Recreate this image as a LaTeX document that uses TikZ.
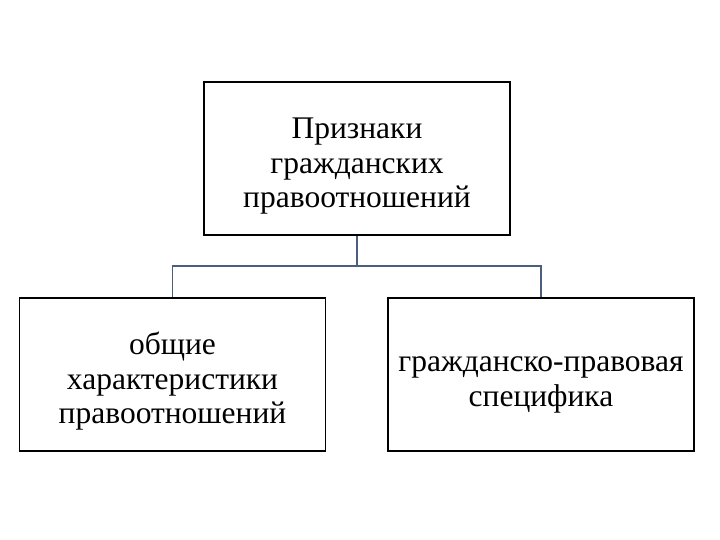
\documentclass[tikz,border=0pt]{standalone}
\usepackage{fontspec}
\setmainfont{Liberation Serif}
\usetikzlibrary{positioning}
\definecolor{linkcol}{RGB}{76,94,128}
\newcommand\topgap{\rule{0pt}{36pt}}
\begin{document}
\begin{tikzpicture}[x=1pt,y=-1pt,
box/.style={draw,line width=1.6pt,minimum width=306pt,minimum height=153pt,align=center,
 font=\fontsize{31.5}{34.5}\selectfont},
link/.style={draw=linkcol,line width=1.5pt}]
\useasboundingbox(0,0)rectangle(720,540);
\node[box](top)at(357,158.5){\topgap Признаки\\гражданских\\правоотношений};
\node[box](left)at(172.5,374.5){\topgap общие\\характеристики\\правоотношений};
\node[box](right)at(541,374.5){\topgap гражданско-правовая\\специфика};
\coordinate(mid)at(357,266);
\draw[link](top.south)--(mid);
\draw[link](left.north)|-(mid)-|(right.north);
\end{tikzpicture}
\end{document}
